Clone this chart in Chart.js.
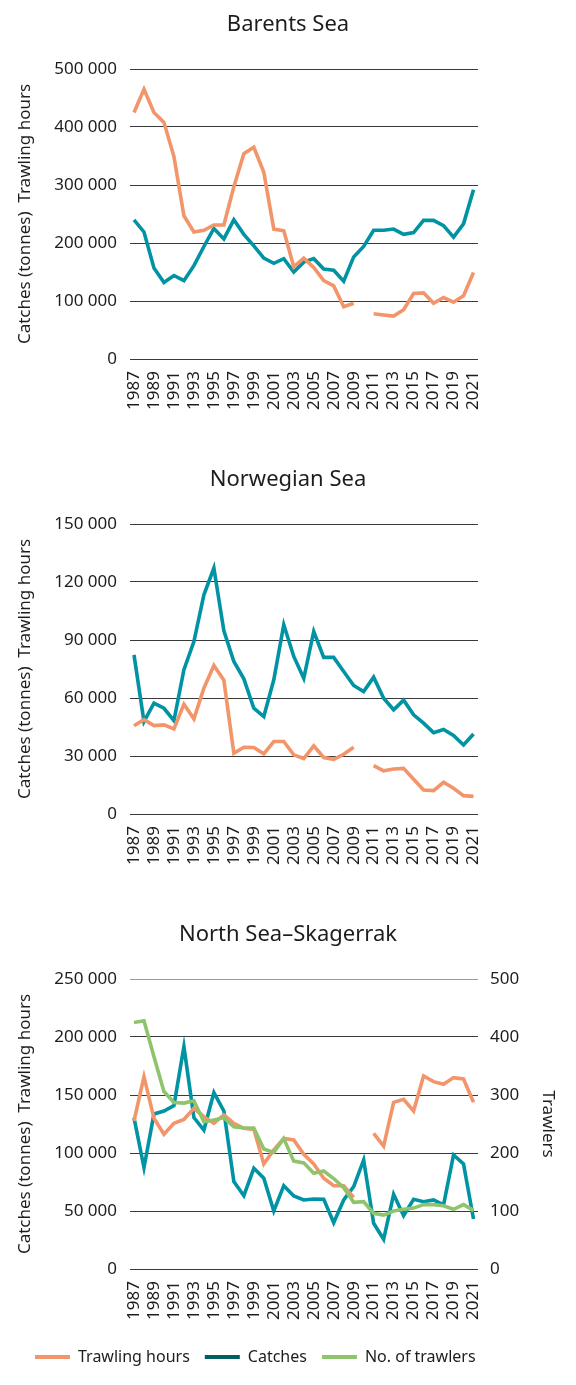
<!DOCTYPE html>
<html>
<head>
<meta charset="utf-8">
<script src="https://cdn.jsdelivr.net/npm/chart.js@4.4.1/dist/chart.umd.min.js"></script>
<style>
  html, body { margin: 0; padding: 0; background: #fff; }
  .box { position: relative; width: 576px; }
</style>
</head>
<body>
<div class="box" style="height:455px"><canvas id="barents"></canvas></div>
<div class="box" style="height:455px"><canvas id="norwegian"></canvas></div>
<div class="box" style="height:475px"><canvas id="northsea"></canvas></div>
<script>
const years = [1987, 1988, 1989, 1990, 1991, 1992, 1993, 1994, 1995, 1996, 1997, 1998,
  1999, 2000, 2001, 2002, 2003, 2004, 2005, 2006, 2007, 2008, 2009, 2010, 2011, 2012,
  2013, 2014, 2015, 2016, 2017, 2018, 2019, 2020, 2021];
const yearTicks = [1987, 1989, 1991, 1993, 1995, 1997, 1999, 2001, 2003, 2005, 2007,
  2009, 2011, 2013, 2015, 2017, 2019, 2021];

// Barents Sea
const barentsHours = [425000, 465000, 425000, 408000, 349000, 247000, 219000, 222000, 231000, 231000,
  297000, 354000, 365000, 322000, 224000, 221000, 159000, 174000, 158000, 135000,
  126000, 90000, 96000, null, 78000, 76000, 74000, 85000, 113000, 114000,
  96000, 106000, 98000, 109000, 149000];
const barentsCatches = [240000, 219000, 157000, 132000, 144000, 135000, 161000, 194000, 225000, 207000,
  240000, 215000, 195000, 174000, 165000, 173000, 150000, 167000, 173000, 155000,
  153000, 134000, 176000, 194000, 222000, 222000, 224000, 215000, 218000, 239000,
  239000, 230000, 210000, 233000, 292000];

// Norwegian Sea
const norwegianHours = [45600, 48800, 45700, 46100, 44000, 56800, 49200, 65100, 76800, 69200,
  31400, 34500, 34400, 31100, 37500, 37500, 30600, 28700, 35200, 29200,
  28300, 30900, 34500, null, 25000, 22300, 23300, 23600, 18000, 12400,
  12100, 16400, 13300, 9500, 9100];
const norwegianCatches = [82300, 47800, 57300, 54700, 48300, 74600, 89200, 113400, 127200, 94800,
  78900, 69900, 54700, 50400, 69400, 97900, 81500, 70200, 94400, 81000,
  81000, 73700, 66500, 63300, 70800, 59900, 53900, 58900, 51300, 47000,
  42100, 43700, 40600, 35700, 41400];

// North Sea - Skagerrak
const northHours = [127600, 165800, 129900, 116100, 125600, 129000, 138500, 131300, 125600, 132800,
  125600, 121300, 120400, 90500, 102600, 112600, 111200, 98900, 90500, 78200,
  71800, 71800, 61800, null, 117000, 106000, 143700, 146300, 136200, 166400,
  161500, 159200, 165000, 163800, 143700];
const northCatches = [130500, 87400, 133600, 136200, 140800, 191700, 130500, 119800, 152000, 136200,
  75300, 63200, 86800, 78200, 50000, 71800, 62900, 59500, 60300, 60100,
  39900, 59500, 71000, 94000, 39400, 25600, 64400, 46000, 60100, 58000,
  59500, 55200, 98300, 90500, 43100];
const northTrawlers = [425, 428, 366, 306, 287, 286, 290, 254, 257, 261,
  245, 243, 243, 207, 201, 225, 186, 183, 165, 169,
  156, 140, 115, 116, 96, 93, 100, 103, 105, 111,
  111, 109, 103, 111, 101];

const seriesNames = ["Trawling hours", "Catches", "No. of trawlers"];
const lineColors = ["#f3956a", "#0093a3", "#8fc46c"];
const legendColors = ["#f3956a", "#005f60", "#8fc46c"];

const textColor = "#1d1d1b";
Chart.defaults.font.family = "'Noto Sans', sans-serif";
Chart.defaults.color = textColor;

const tickFont = { size: 17 };
const fmt = (v) => String(v).replace(/\B(?=(\d{3})+(?!\d))/g, " ");
const pts = (arr) => years.map((yr, i) => ({ x: yr, y: arr[i] }));

function makeChart(id, title, hours, catches, trawlers, yMax, yStep, yTopGrey) {
  const datasets = [
    { label: seriesNames[0], data: pts(hours), borderColor: lineColors[0], backgroundColor: lineColors[0], order: 1 },
    { label: seriesNames[1], data: pts(catches), borderColor: lineColors[1], backgroundColor: lineColors[1], order: 2 }
  ];
  if (trawlers) {
    datasets.push({ label: seriesNames[2], data: pts(trawlers), borderColor: lineColors[2],
      backgroundColor: lineColors[2], yAxisID: "y2", order: 0 });
  }
  datasets.forEach(ds => { ds.borderWidth = 3.6; ds.pointRadius = 0; ds.spanGaps = false; ds.tension = 0; });

  // side padding is kept equal so the title stays centred on the page
  const side = trawlers ? 20 : 0;

  const scales = {
    x: {
      type: "linear",
      min: 1986.6,
      max: 2021.45,
      afterBuildTicks: (s) => { s.ticks = yearTicks.map(v => ({ value: v })); },
      afterFit: (s) => { s.height = trawlers ? 65 : 96; },
      grid: { display: false, drawTicks: false },
      border: { display: false },
      ticks: { minRotation: 90, maxRotation: 90, autoSkip: false, padding: 12, font: tickFont, color: textColor,
        callback: (v) => String(v) }
    },
    y: {
      min: 0,
      max: yMax,
      afterFit: (s) => { s.width = 130 - side; },
      grid: {
        drawTicks: false,
        lineWidth: 1,
        color: (c) => (yTopGrey && c.tick && c.tick.value === yMax) ? "#9a9a9a" : "#3a3a3a"
      },
      border: { display: false },
      ticks: { stepSize: yStep, padding: 13, font: tickFont, color: textColor, callback: (v) => fmt(v) },
      title: { display: true, text: "Catches (tonnes)  Trawling hours", font: { size: 17 }, color: textColor,
        padding: { top: 15 - side, bottom: 0 } }
    }
  };
  if (trawlers) {
    scales.y2 = {
      position: "right",
      min: 0,
      max: 500,
      afterFit: (s) => { s.width = 98 - side; },
      grid: { drawOnChartArea: false, drawTicks: false },
      border: { display: false },
      ticks: { stepSize: 100, padding: 12, font: tickFont, color: textColor },
      title: { display: true, text: "Trawlers", font: { size: 17 }, color: textColor,
        padding: { top: 18 - side, bottom: 0 } }
    };
  } else {
    // empty right margin
    scales.yr = {
      position: "right",
      afterFit: (s) => { s.width = 98; },
      ticks: { display: false },
      grid: { display: false },
      border: { display: false }
    };
  }

  return new Chart(document.getElementById(id), {
    type: "line",
    data: { datasets: datasets },
    options: {
      responsive: true,
      maintainAspectRatio: false,
      animation: false,
      layout: { padding: { left: side, right: side, top: 0, bottom: trawlers ? 10 : 0 } },
      scales: scales,
      plugins: {
        title: {
          display: true,
          text: title,
          color: textColor,
          font: { size: 22, weight: "normal" },
          padding: { top: 12, bottom: 30.6 }
        },
        legend: {
          display: !!trawlers,
          position: "bottom",
          align: "start",
          labels: {
            boxWidth: 35,
            boxHeight: 4,
            padding: 15,
            useBorderRadius: true,
            borderRadius: 2,
            font: { size: 16 },
            color: textColor,
            generateLabels: (chart) => chart.data.datasets.map((ds, i) => ({
              text: ds.label,
              fillStyle: legendColors[i],
              strokeStyle: legendColors[i],
              lineWidth: 0,
              fontColor: textColor,
              hidden: false,
              datasetIndex: i
            }))
          }
        },
        tooltip: { enabled: false }
      }
    }
  });
}

makeChart("barents", "Barents Sea", barentsHours, barentsCatches, null, 500000, 100000, false);
makeChart("norwegian", "Norwegian Sea", norwegianHours, norwegianCatches, null, 150000, 30000, false);
makeChart("northsea", "North Sea\u2013Skagerrak", northHours, northCatches, northTrawlers, 250000, 50000, true);
</script>
</body>
</html>
